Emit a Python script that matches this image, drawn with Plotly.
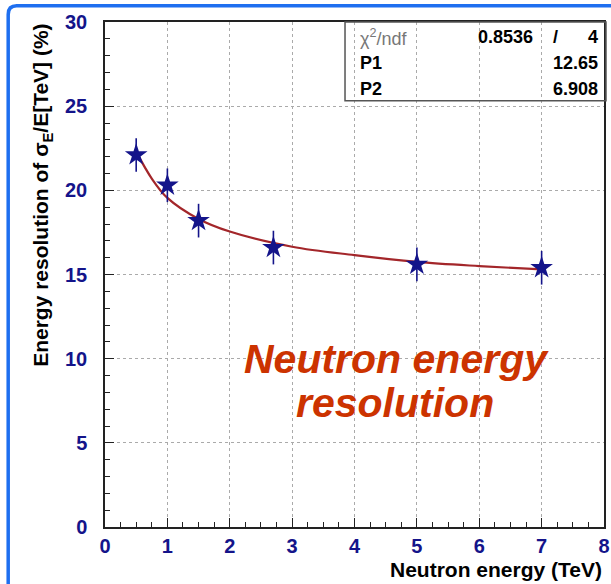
import plotly.graph_objects as go

# measured points
energy = [0.5, 1.0, 1.5, 2.7, 5.0, 7.0]
resolution = [22.1, 20.3, 18.2, 16.6, 15.6, 15.4]
res_err = [1.0, 1.0, 1.0, 1.0, 1.0, 1.0]

# fit curve
fit_e = [0.5, 0.75, 1.0, 1.5, 2.0, 3.0, 4.0, 5.0, 6.0, 7.0]
fit_res = [22.3, 20.7, 19.55, 18.3, 17.55, 16.65, 16.15, 15.75, 15.5, 15.3]

stat_labels = ["P1", "P2"]
stat_values = ["12.65", "6.908"]
chi2_text = "0.8536"
ndf_text = "4"

navy = "#14148a"
font = "Liberation Sans"

fig = go.Figure()

fig.add_trace(go.Scatter(
    x=fit_e, y=fit_res, mode="lines", line_shape="spline",
    line=dict(color="#a3262a", width=2.2), hoverinfo="skip",
))
fig.add_trace(go.Scatter(
    x=energy, y=resolution, mode="markers",
    marker=dict(symbol="star", size=17, color=navy, line=dict(width=0)),
    error_y=dict(type="data", array=res_err, color=navy, thickness=1.6, width=0),
))

# stats box
fig.add_shape(type="rect", xref="paper", yref="paper",
              x0=0.481, x1=1.004, y0=0.844, y1=1.0,
              line=dict(color="#555555", width=1.5), fillcolor="rgba(0,0,0,0)")
rows_y = [29.1, 27.55, 26.0]
fig.add_annotation(x=4.05, y=rows_y[0], xanchor="left", showarrow=False,
                   text="χ<sup>2</sup>/ndf",
                   font=dict(family=font, size=18, color="#777777"))
fig.add_annotation(x=6.9, y=rows_y[0], xanchor="right", showarrow=False,
                   text="<b>" + chi2_text + "</b>",
                   font=dict(family=font, size=18, color="black"))
fig.add_annotation(x=7.22, y=rows_y[0], showarrow=False, text="<b>/</b>",
                   font=dict(family=font, size=18, color="black"))
fig.add_annotation(x=7.93, y=rows_y[0], xanchor="right", showarrow=False,
                   text="<b>" + ndf_text + "</b>",
                   font=dict(family=font, size=18, color="black"))
for lab, val, yy in zip(stat_labels, stat_values, rows_y[1:]):
    fig.add_annotation(x=4.05, y=yy, xanchor="left", showarrow=False,
                       text="<b>" + lab + "</b>",
                       font=dict(family=font, size=18, color="black"))
    fig.add_annotation(x=7.93, y=yy, xanchor="right", showarrow=False,
                       text="<b>" + val + "</b>",
                       font=dict(family=font, size=18, color="black"))

# big label, two lines set close together
big = dict(family=font, size=41, color="#cc3300")
fig.add_annotation(x=4.68, y=10.0, showarrow=False,
                   text="<b><i>Neutron energy</i></b>", font=big)
fig.add_annotation(x=4.65, y=7.35, showarrow=False,
                   text="<b><i>resolution</i></b>", font=big)

# axis titles
fig.add_annotation(xref="paper", yref="paper", x=1.0, y=-0.0575, xanchor="right", yanchor="top",
                   showarrow=False, text="<b>Neutron energy (TeV)</b>",
                   font=dict(family=font, size=21, color="black"))
fig.add_annotation(xref="paper", yref="paper", x=-0.155, y=0.657, textangle=-90,
                   showarrow=False, text="<b>Energy resolution of σ<sub>E</sub>/E[TeV] (%)</b>",
                   font=dict(family=font, size=21, color="black"))

# blue frame on top and left
fig.add_shape(type="path", xref="paper", yref="paper",
              path="M -0.194,-0.2 L -0.194,1.015 Q -0.194,1.032 -0.177,1.032 L 1.02,1.032",
              line=dict(color="#1e6ff0", width=3.5))

fig.update_xaxes(
    range=[0, 8], dtick=1, showgrid=True, gridcolor="#aaaaaa", griddash="dot", gridwidth=1,
    showline=True, linecolor="#222222", linewidth=1.5, mirror=True,
    ticks="inside", ticklen=9, tickcolor="#222222",
    minor=dict(ticks="inside", dtick=0.25, ticklen=5, tickcolor="#222222", showgrid=False),
    tickfont=dict(family=font, size=20, color=navy, weight="bold"), zeroline=False,
    automargin=False, ticklabelstandoff=0,
)
fig.update_yaxes(
    range=[0, 30], dtick=5, showgrid=True, gridcolor="#aaaaaa", griddash="dot", gridwidth=1,
    showline=True, linecolor="#222222", linewidth=1.5, mirror=True,
    ticks="inside", ticklen=9, tickcolor="#222222",
    minor=dict(ticks="inside", dtick=1, ticklen=5, tickcolor="#222222", showgrid=False),
    tickfont=dict(family=font, size=20, color=navy, weight="bold"), zeroline=False,
    ticklabelstandoff=12, automargin=False,
)

fig.update_layout(
    width=611, height=584,
    margin=dict(l=105, r=7, t=22, b=57),
    plot_bgcolor="white", paper_bgcolor="white",
    showlegend=False,
)

fig.write_html("out.html", config={"displayModeBar": False},
               post_script="document.body.style.margin='0px';")
